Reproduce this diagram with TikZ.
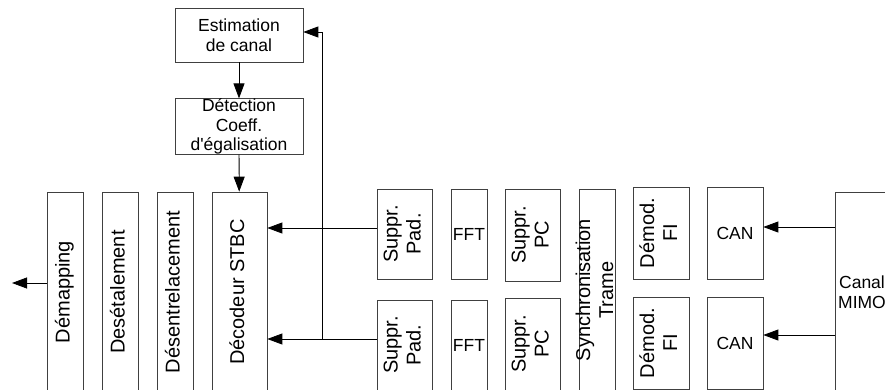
\documentclass[tikz,border=0pt]{standalone}
\usepackage{fontspec}
\setmainfont{Liberation Sans}
\usepackage{graphicx}
\usetikzlibrary{arrows.meta,positioning}

\newcommand{\vtext}[1]{\rotatebox{90}{\begin{tabular}{@{}c@{}}#1\end{tabular}}}

\begin{document}
\begin{tikzpicture}[
  x=1pt, y=-1pt,
  box/.style={draw=black!75, line width=0.7pt, align=center, inner sep=1pt, fill=white,
    font=\fontsize{17.5}{19.5}\selectfont},
  vbox/.style={box, font=\fontsize{20}{23}\selectfont},
  tall/.style={vbox, minimum width=36pt, minimum height=200pt},
  half/.style={minimum width=55pt, minimum height=90pt},
  arr/.style={-{Triangle[length=15pt,width=11pt]}, line width=0.8pt}
]
\useasboundingbox (0,0) rectangle (885,389);
\clip (0,0) rectangle (885,389);

% estimation du canal
\node[box, minimum width=128pt, minimum height=54pt] (est) at (239,35) {Estimation\\de canal};
\node[box, minimum width=128pt, minimum height=55pt, inner sep=0pt] (det) at (239,126.5) {D\'etection\\Coeff.\\d\textquotesingle\'egalisation};

% chaine de reception
\node[tall] (dmap) at (65,292) {\vtext{D\'emapping}};
\node[tall] (desetal) at (120,292) {\vtext{Des\'etalement}};
\node[tall] (desent) at (175,292) {\vtext{D\'esentrelacement}};
\node[tall, minimum width=55pt] (dec) at (239.5,292) {\vtext{D\'ecodeur STBC}};

\node[vbox, half] (pad1) at (404.5,234) {\vtext{Suppr.\\Pad.}};
\node[vbox, half] (pad2) at (404.5,345) {\vtext{Suppr.\\Pad.}};
\node[box, half, minimum width=36pt] (fft1) at (469,234) {FFT};
\node[box, half, minimum width=36pt] (fft2) at (469,345) {FFT};
\node[vbox, half, minimum height=92pt] (pc1) at (532.5,235) {\vtext{Suppr.\\PC}};
\node[vbox, half, minimum height=92pt] (pc2) at (532.5,344) {\vtext{Suppr.\\PC}};
\node[tall, minimum height=202pt] (sync) at (597,290) {\makebox[0pt]{\vtext{Synchronisation\\Trame}}};
\node[vbox, half, minimum width=56pt, minimum height=92pt] (dem1) at (661,233) {\vtext{D\'emod.\\FI}};
\node[vbox, half, minimum width=56pt, minimum height=92pt] (dem2) at (661,343) {\vtext{D\'emod.\\FI}};
\node[box, half, minimum width=56pt, minimum height=92pt] (can1) at (735,233) {CAN};
\node[box, half, minimum width=56pt, minimum height=92pt] (can2) at (735,343) {CAN};
\node[box, minimum width=54pt, minimum height=200pt] (mimo) at (862,292) {Canal\\MIMO};

\coordinate (out) at (12,283);
\coordinate (fb) at (322,339);
\coordinate (fbtop) at (322,32);

\draw[arr] (est) -- (det);
\draw[arr] (det) -- (dec);
\draw[arr] ([yshift=6pt]can1.east -| mimo.west) -- ([yshift=6pt]can1.east);
\draw[arr] ([yshift=8pt]can2.east -| mimo.west) -- ([yshift=8pt]can2.east);
\draw[arr] ([yshift=6pt]pad1.west) -- ([yshift=6pt]pad1.west -| dec.east);
\draw[arr] ([yshift=6pt]pad2.west) -- ([yshift=6pt]pad2.west -| dec.east);
\draw[arr] (fb) -- (fbtop) -- (fbtop -| est.east);
\draw[arr] (out -| dmap.west) -- (out);
\end{tikzpicture}
\end{document}
